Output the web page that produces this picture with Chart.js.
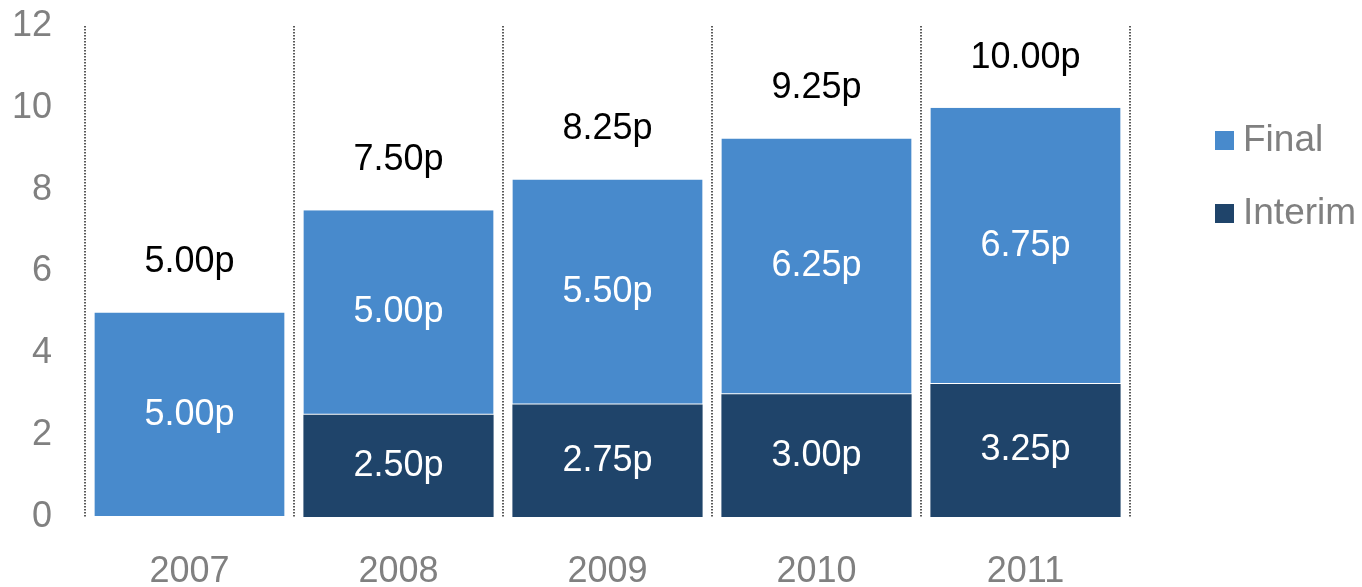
<!DOCTYPE html>
<html lang="en">
<head>
    <meta charset="UTF-8">
    <title>Dividends</title>
    <script src="https://cdn.jsdelivr.net/npm/chart.js"></script>
    <style>
        html, body { margin: 0; padding: 0; background: #fff; }
        #wrap { width: 1362px; height: 587px; position: relative; }
    </style>
</head>
<body>
<div id="wrap"><canvas id="divChart"></canvas></div>
<script>
    // data
    var years = ['2007', '2008', '2009', '2010', '2011'];
    var interim = [0, 2.50, 2.75, 3.00, 3.25];
    var final = [5.00, 5.00, 5.50, 6.25, 6.75];
    var yTicks = [0, 2, 4, 6, 8, 10, 12];

    var FONT = '"Liberation Sans", Arial, sans-serif';
    var GREY = '#808080';
    var FINAL_COL = '#488acc';
    var INTERIM_COL = '#1f446a';

    // labels inside the segments + total on top
    var valueLabels = {
        id: 'valueLabels',
        afterDatasetsDraw: function(chart) {
            var ctx = chart.ctx;
            ctx.save();
            ctx.font = '36px ' + FONT;
            ctx.textAlign = 'center';
            ctx.textBaseline = 'middle';
            chart.data.datasets.forEach(function(ds, i) {
                var meta = chart.getDatasetMeta(i);
                meta.data.forEach(function(bar, j) {
                    if (!ds.data[j]) return;
                    var mid = (bar.y + bar.base) / 2;
                    ctx.fillStyle = '#ffffff';
                    ctx.fillText(ds.data[j].toFixed(2) + 'p', bar.x, mid);
                });
            });
            var top = chart.getDatasetMeta(1);
            top.data.forEach(function(bar, j) {
                var total = interim[j] + final[j];
                ctx.fillStyle = '#000000';
                ctx.fillText(total.toFixed(2) + 'p', bar.x, bar.y - 50);
            });
            ctx.restore();
        }
    };

    // legend on the right, Final above Interim
    var sideLegend = {
        id: 'sideLegend',
        afterDraw: function(chart) {
            var ctx = chart.ctx;
            var items = [
                { label: chart.data.datasets[1].label, color: chart.data.datasets[1].backgroundColor, y: 140 },
                { label: chart.data.datasets[0].label, color: chart.data.datasets[0].backgroundColor, y: 213 }
            ];
            ctx.save();
            ctx.font = '37px ' + FONT;
            ctx.textBaseline = 'middle';
            ctx.textAlign = 'left';
            items.forEach(function(it) {
                ctx.fillStyle = it.color;
                ctx.fillRect(1215, it.y - 9, 19, 19);
                ctx.fillStyle = GREY;
                ctx.fillText(it.label, 1243, it.y + 1);
            });
            ctx.restore();
        }
    };

    var divChart = new Chart(document.getElementById('divChart').getContext('2d'), {
        type: 'bar',
        data: {
            labels: years,
            datasets: [{
                label: 'Interim',
                data: interim,
                backgroundColor: INTERIM_COL,
                barPercentage: 0.91,
                categoryPercentage: 1.0
            }, {
                label: 'Final',
                data: final,
                backgroundColor: FINAL_COL,
                borderColor: 'rgba(255,255,255,0.5)',
                borderWidth: { bottom: 1 },
                borderSkipped: false,
                barPercentage: 0.91,
                categoryPercentage: 1.0
            }]
        },
        options: {
            responsive: true,
            maintainAspectRatio: false,
            animation: false,
            layout: { padding: { top: 26, right: 232, left: 0, bottom: 0 } },
            plugins: {
                legend: { display: false },
                tooltip: { enabled: false }
            },
            scales: {
                x: {
                    stacked: true,
                    border: { display: false, dash: [1.5, 1.5] },
                    grid: {
                        display: true,
                        offset: true,
                        drawTicks: false,
                        color: '#5a5a5a',
                        lineWidth: 2
                    },
                    ticks: {
                        color: GREY,
                        font: { size: 36, family: FONT },
                        padding: 33
                    },
                    afterFit: function(scale) {
                        scale.height = 70;
                        scale.paddingLeft = 0;
                        scale.paddingRight = 0;
                    }
                },
                y: {
                    stacked: true,
                    min: 0,
                    max: 12,
                    afterBuildTicks: function(scale) {
                        scale.ticks = yTicks.map(function(v) { return { value: v }; });
                    },
                    border: { display: false },
                    grid: { display: false, drawTicks: false },
                    ticks: {
                        color: GREY,
                        font: { size: 36, family: FONT },
                        padding: 33
                    },
                    afterFit: function(scale) {
                        scale.width = 85;
                        scale.paddingTop = 0;
                        scale.paddingBottom = 0;
                    }
                }
            }
        },
        plugins: [valueLabels, sideLegend]
    });
</script>
</body>
</html>
